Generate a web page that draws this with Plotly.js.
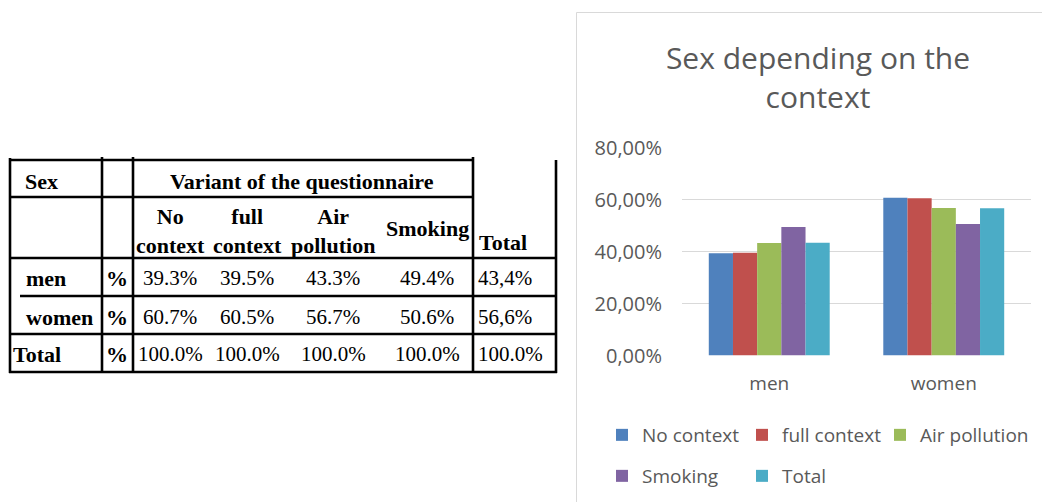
<!DOCTYPE html>
<html>
<head>
<meta charset="utf-8">
<script src="https://cdn.plot.ly/plotly-3.0.1.min.js"></script>
<style>
  html, body { margin: 0; padding: 0; background: #ffffff; }
  #chart { width: 1042px; height: 502px; }
</style>
</head>
<body>
<div id="chart"></div>
<script>
// ---------- chart data ----------
const categories = ['men', 'women'];
const seriesNames = ['No context', 'full context', 'Air pollution', 'Smoking', 'Total'];
const noContext = [0.393, 0.607];
const fullContext = [0.395, 0.605];
const airPollution = [0.433, 0.567];
const smoking = [0.494, 0.506];
const total = [0.434, 0.566];
const yTickValues = [0, 0.2, 0.4, 0.6, 0.8];
const chartTitle = 'Sex depending on the<br>context';

// ---------- table data ----------
const tableSexHeader = 'Sex';
const tableGroupHeader = 'Variant of the questionnaire';
const tableColHeaders = ['No<br>context', 'full<br>context', 'Air<br>pollution', 'Smoking'];
const tableTotalHeader = 'Total';
const tableRowLabels = ['men', 'women', 'Total'];
const tableUnit = '%';
const tableMen = ['39.3%', '39.5%', '43.3%', '49.4%', '43,4%'];
const tableWomen = ['60.7%', '60.5%', '56.7%', '50.6%', '56,6%'];
const tableTotal = ['100.0%', '100.0%', '100.0%', '100.0%', '100.0%'];

// ---------- geometry helpers (layout only) ----------
const W = 1042, H = 502;
const px = x => x / W;
const py = y => 1 - y / H;

const seriesValues = [noContext, fullContext, airPollution, smoking, total];
const seriesColors = ['#4f81bd', '#c0504d', '#9bbb59', '#8064a2', '#4bacc6'];
const legendOf = ['legend', 'legend', 'legend3', 'legend2', 'legend2'];

const traces = seriesNames.map((name, i) => ({
  type: 'bar',
  name: name,
  x: categories,
  y: seriesValues[i],
  marker: { color: seriesColors[i] },
  legend: legendOf[i],
  hoverinfo: 'skip'
}));

const gray = '#595959';
const uiFont = 'Open Sans, Noto Sans, sans-serif';
const serif = 'Liberation Serif, Times New Roman, serif';

// ---------- table layout ----------
const colCenters = [170, 247, 333, 427];   // value column centres
const rowCenters = [278, 317, 354];        // body row centres
const tableRows = [tableMen, tableWomen, tableTotal];
const annotations = [];

function ann(text, x, y, anchor, bold) {
  annotations.push({
    text: bold ? '<b>' + text + '</b>' : text,
    xref: 'paper', yref: 'paper',
    x: px(x), y: py(y),
    xanchor: anchor, yanchor: 'middle',
    showarrow: false,
    font: { family: serif, size: bold ? 22 : 21, color: '#000000' }
  });
}

ann(tableSexHeader, 23, 181, 'left', true);
ann(tableGroupHeader, 302, 181, 'center', true);
tableColHeaders.forEach((t, i) => {
  ann(t, colCenters[i], i === 3 ? 228 : 231, 'center', true);
});
ann(tableTotalHeader, 477, 242, 'left', true);

const labelX = [24, 24, 11];
tableRowLabels.forEach((lab, r) => {
  ann(lab, labelX[r], rowCenters[r], 'left', true);
  ann(tableUnit, 117, rowCenters[r], 'center', true);
  tableRows[r].forEach((v, c) => {
    if (c < 4) ann(v, colCenters[c], rowCenters[r], 'center', false);
    else ann(v, 476, rowCenters[r], 'left', false);
  });
});

const shapes = [];
function hline(y, x0, x1) {
  shapes.push({ type: 'line', xref: 'paper', yref: 'paper',
    x0: px(x0), x1: px(x1), y0: py(y), y1: py(y),
    line: { color: '#000000', width: 2.6 } });
}
function vline(x, y0, y1) {
  shapes.push({ type: 'line', xref: 'paper', yref: 'paper',
    x0: px(x), x1: px(x), y0: py(y0), y1: py(y1),
    line: { color: '#000000', width: 2.6 } });
}
hline(160, 9, 473);
hline(197, 9, 473);
hline(258, 9, 557);
hline(296, 20, 557);
hline(334, 9, 557);
hline(372, 9, 557);
vline(10, 158, 373);
vline(102, 157, 373);
vline(133, 157, 373);
vline(473, 157, 373);
vline(556, 160, 373);

// chart frame
shapes.push({ type: 'rect', xref: 'paper', yref: 'paper',
  x0: px(576.5), x1: px(1046), y0: py(12.5), y1: py(506),
  line: { color: '#d9d9d9', width: 1 }, fillcolor: 'rgba(0,0,0,0)', layer: 'below' });

function legendBox(x, y) {
  return {
    orientation: 'h',
    x: px(x), xanchor: 'left',
    y: py(y), yanchor: 'middle',
    entrywidth: 95, entrywidthmode: 'pixels',
    traceorder: 'normal',
    bgcolor: 'rgba(0,0,0,0)',
    font: { family: uiFont, size: 19, color: gray }
  };
}

const layout = {
  width: W, height: H,
  margin: { l: 0, r: 0, t: 0, b: 0, pad: 0 },
  paper_bgcolor: '#ffffff',
  plot_bgcolor: '#ffffff',
  separators: ', ',
  showlegend: true,
  barmode: 'group',
  bargap: 0.307,
  bargroupgap: 0,
  title: {
    text: chartTitle,
    xref: 'container', yref: 'container',
    x: 818 / W, xanchor: 'center',
    y: py(69), yanchor: 'middle',
    font: { family: uiFont, size: 30, color: gray }
  },
  xaxis: {
    domain: [px(682), px(1031)],
    type: 'category',
    showline: false, showgrid: false, zeroline: false,
    ticks: '',
    ticklabelstandoff: 14,
    tickfont: { family: uiFont, size: 19, color: gray },
    fixedrange: true
  },
  yaxis: {
    domain: [py(355.5), py(147.5)],
    range: [0, 0.8],
    tickvals: yTickValues,
    tickformat: '.2%',
    showgrid: true, gridcolor: '#d9d9d9', gridwidth: 1,
    zeroline: false, showline: false,
    ticks: '',
    ticklabelstandoff: 19,
    tickfont: { family: uiFont, size: 20, color: gray },
    fixedrange: true
  },
  legend: legendBox(602, 435),
  legend3: Object.assign(legendBox(880, 435), { entrywidth: 0 }),
  legend2: legendBox(602, 476),
  annotations: annotations,
  shapes: shapes,
  hovermode: false
};

Plotly.newPlot('chart', traces, layout, { displayModeBar: false, staticPlot: true });
</script>
</body>
</html>
